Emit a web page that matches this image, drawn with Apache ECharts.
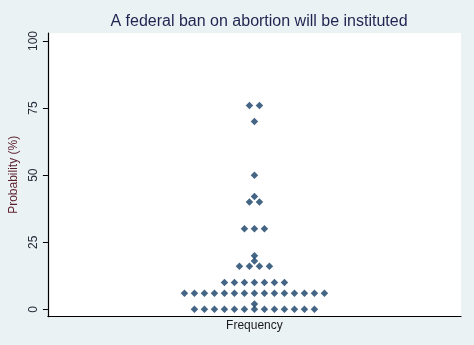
<!DOCTYPE html>
<html>
<head>
<meta charset="utf-8">
<script src="https://cdn.jsdelivr.net/npm/echarts@6/dist/echarts.min.js"></script>
<style>html,body{margin:0;padding:0;background:#EAF2F3;}#c{width:474px;height:345px;}</style>
</head>
<body>
<div id="c"></div>
<script>
// Probability values (%) and how many responses fall on each
const values = [76, 70, 50, 42, 40, 30, 20, 18, 16, 10, 6, 2, 0];
const counts = [2, 1, 1, 1, 2, 3, 1, 1, 4, 7, 15, 1, 13];
const yTicks = [0, 25, 50, 75, 100];
const titleText = 'A federal ban on abortion will be instituted';

// dot plot: stack each value's dots side by side, centred on the frequency axis
const points = [];
values.forEach((v, k) => {
  const n = counts[k];
  for (let i = 0; i < n; i++) points.push([i - (n - 1) / 2, v]);
});

const chart = echarts.init(document.getElementById('c'), null, {renderer: 'canvas'});
chart.setOption({
  backgroundColor: '#EAF2F3',
  animation: false,
  title: {
    text: titleText, left: 254, textAlign: 'center', top: 9,
    textStyle: {fontFamily: 'Liberation Sans, Arial', fontSize: 16, fontWeight: 'normal', color: '#1f2550'}
  },
  grid: {left: 47, right: 13, top: 33, bottom: 28.3, show: true, backgroundColor: '#ffffff', borderWidth: 0},
  xAxis: {
    type: 'value', min: -20.65, max: 20.65,
    axisLine: {show: true, onZero: false, lineStyle: {color: '#000', width: 1.2}},
    axisTick: {show: false}, axisLabel: {show: false}, splitLine: {show: false},
    name: 'Frequency', nameLocation: 'middle', nameGap: 3,
    nameTextStyle: {fontFamily: 'Liberation Sans, Arial', fontSize: 12, color: '#1a1a1a', verticalAlign: 'top'}
  },
  yAxis: {
    type: 'value', min: -2.758, max: 102.98,
    axisLine: {show: true, onZero: false, lineStyle: {color: '#000', width: 1.2}},
    axisTick: {show: true, customValues: yTicks, length: 5, lineStyle: {color: '#000'}},
    axisLabel: {customValues: yTicks, rotate: 90, margin: 8, fontFamily: 'Liberation Sans, Arial', fontSize: 12, color: '#2a2a3a'},
    splitLine: {show: false},
    name: 'Probability (%)', nameLocation: 'middle', nameGap: 26, nameRotate: 90,
    nameTextStyle: {fontFamily: 'Liberation Sans, Arial', fontSize: 12, color: '#5c1f2e'}
  },
  series: [{
    type: 'scatter', data: points, symbol: 'diamond', symbolSize: 7.5,
    itemStyle: {color: '#173f66'}
  }]
});
</script>
</body>
</html>
